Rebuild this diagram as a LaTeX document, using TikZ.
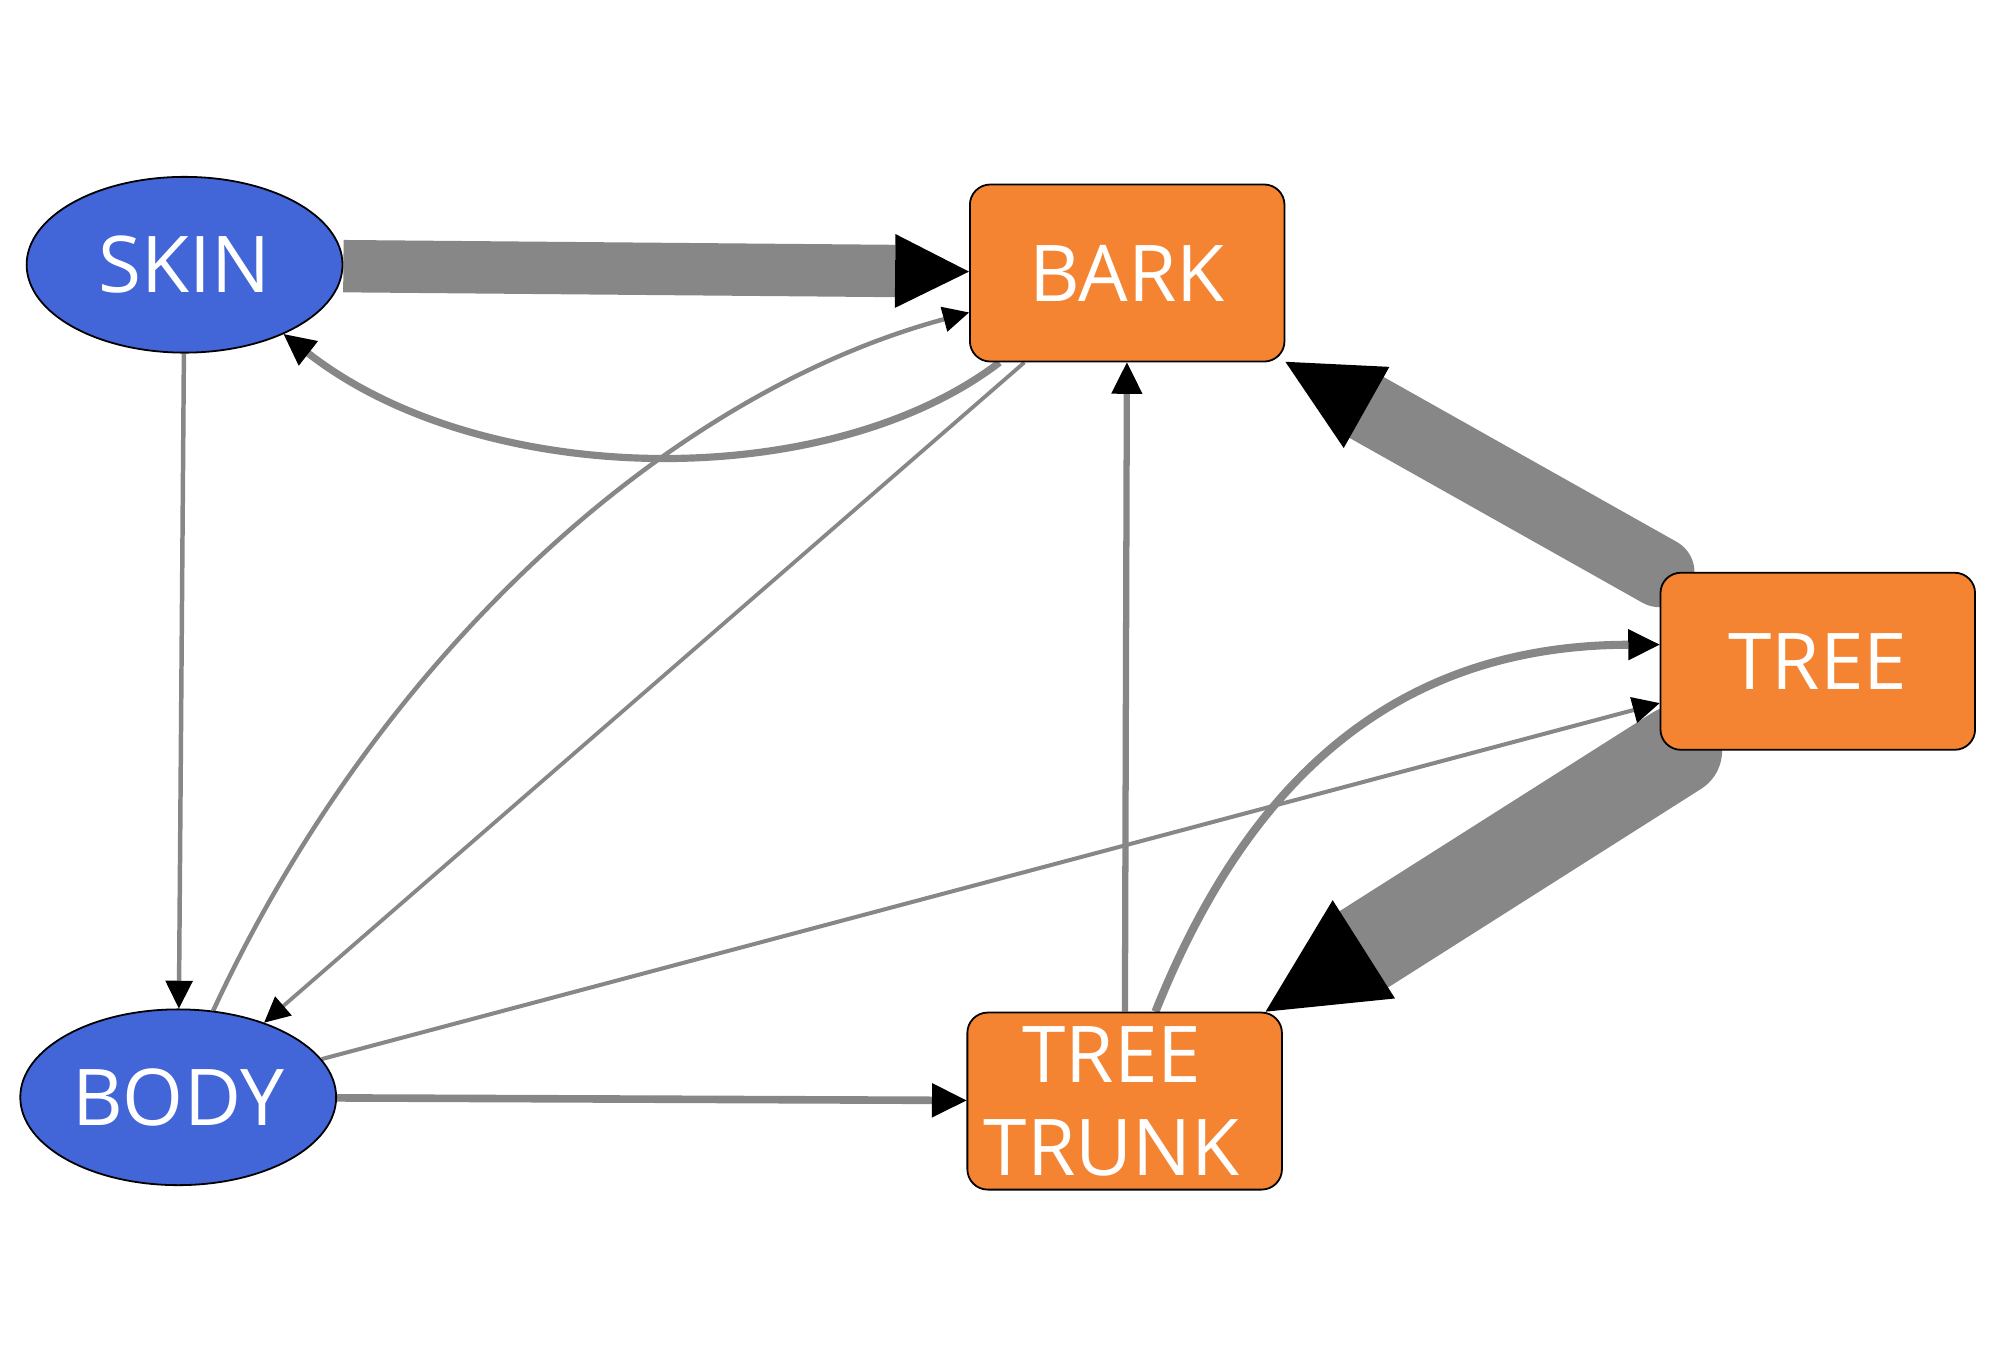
\documentclass[tikz,border=0pt]{standalone}
\usepackage{fontspec}
\newfontfamily\nodefont{Open Sans}
\usetikzlibrary{arrows.meta,shapes.geometric,backgrounds}
\definecolor{entblue}{RGB}{66,101,216}
\definecolor{objorange}{RGB}{245,132,50}
\definecolor{linkgray}{RGB}{135,135,135}

\begin{document}
\begin{tikzpicture}[x=0.01cm, y=-0.01cm,
    ent/.style={draw=black, ellipse, fill=entblue, text=white, inner sep=0pt, minimum width=2.48cm, minimum height=1.38cm, font=\nodefont\fontsize{17.5}{20.8}\selectfont},
    obj/.style={draw=black, rectangle, rounded corners=0.16cm, fill=objorange, text=white, inner sep=2pt, minimum width=2.47cm, minimum height=1.39cm, align=center, font=\nodefont\fontsize{17.5}{20.8}\selectfont},
    link/.style={draw=linkgray},
    arrowhd/.style={-{Triangle[length=#1, width=#1, line width=0pt, color=black]}}]
    \useasboundingbox (0,0) rectangle (1568,1077);

    % Entidades
    \node[ent] (skin) at (145,208) {SKIN};
    \node[ent] (body) at (140,862) {BODY};

    % Objetos
    \node[obj] (bark) at (885.5,214.5) {BARK};
    \node[obj] (tree) at (1428,519.5) {TREE};
    \node[obj] (trunk) at (883.5,865) {TREE\hspace*{0.2cm}\\TRUNK\hspace*{0.2cm}};

    % Arestas
    \begin{scope}[on background layer]
        \draw[link, line width=11.7pt, arrowhd=16.5pt] (skin) -- (bark);
        \draw[link, line width=15.6pt, line cap=round, arrowhd=20.8pt] (tree) -- (bark);
        \draw[link, line width=20.2pt, line cap=round, arrowhd=26pt] (tree) -- (trunk);
        \draw[link, line width=1.7pt, arrowhd=7.7pt] (body) -- (trunk);
        \draw[link, line width=1pt, arrowhd=6.2pt] (skin) -- (body);
        \draw[link, line width=1.4pt, arrowhd=7pt] (trunk) -- (bark);
        \draw[link, line width=0.85pt, arrowhd=5.7pt] (bark) -- (body);
        \draw[link, line width=0.9pt, arrowhd=6pt] (body) -- (tree);
        \draw[link, line width=1.6pt, arrowhd=7pt] (bark.215) .. controls (650,388) and (380,385) .. (skin.-35);
        \draw[link, line width=1pt, arrowhd=5.8pt] (body.68) .. controls (294,521) and (519,311) .. (bark.194);
        \draw[link, line width=1.8pt, arrowhd=7pt] (trunk.71) .. controls (974,629) and (1083,507) .. (tree.174);
    \end{scope}
\end{tikzpicture}
\end{document}
